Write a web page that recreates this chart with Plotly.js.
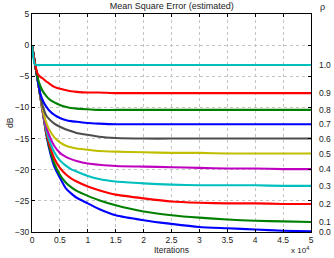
<!DOCTYPE html>
<html>
<head>
<meta charset="utf-8">
<script src="https://cdn.plot.ly/plotly-3.0.1.min.js"></script>
<style>html,body{margin:0;padding:0;background:#fff;}#chart{width:334px;height:258px;}</style>
</head>
<body>
<div id="chart"></div>
<script>
// iterations at which values were read
const iterations = [0, 500, 1000, 1500, 2000, 2500, 3000, 4000, 5000, 6000, 7000, 8000, 10000, 12000, 15000, 20000, 25000, 30000, 35000, 40000, 45000, 50000];

// MSE (dB) per rho
const rho00 = [0, -2.8, -5.5, -8.3, -11.1, -14.0, -16.3, -19.5, -21.3, -22.9, -23.8, -24.5, -25.4, -26.3, -27.3, -28.1, -28.7, -29.2, -29.4, -29.6, -29.8, -29.9];
const rho01 = [0, -2.8, -5.5, -8.3, -11.1, -13.9, -16.0, -19.0, -20.8, -22.0, -22.8, -23.4, -24.2, -24.9, -25.7, -26.7, -27.3, -27.7, -28.0, -28.2, -28.3, -28.4];
const rho02 = [0, -2.8, -5.5, -8.3, -11.1, -13.8, -15.6, -18.2, -19.7, -20.7, -21.4, -21.9, -22.7, -23.3, -24.0, -24.6, -25.1, -25.3, -25.4, -25.4, -25.5, -25.5];
const rho03 = [0, -2.8, -5.5, -8.3, -11.0, -13.4, -15.0, -17.2, -18.5, -19.3, -19.9, -20.3, -21.0, -21.5, -21.9, -22.2, -22.4, -22.5, -22.5, -22.5, -22.6, -22.6];
const rho04 = [0, -2.8, -5.5, -8.3, -10.9, -12.9, -14.3, -16.2, -17.3, -17.9, -18.3, -18.6, -19.0, -19.2, -19.4, -19.5, -19.6, -19.7, -19.8, -19.8, -19.9, -19.9];
const rho05 = [0, -2.8, -5.5, -8.3, -10.6, -12.3, -13.4, -14.8, -15.6, -16.1, -16.4, -16.6, -16.8, -17.0, -17.1, -17.2, -17.3, -17.3, -17.4, -17.4, -17.4, -17.4];
const rho06 = [0, -2.8, -5.5, -8.2, -10.0, -11.2, -11.8, -12.6, -13.1, -13.5, -13.8, -14.1, -14.4, -14.7, -14.9, -15.0, -15.0, -15.0, -15.0, -15.0, -15.0, -15.0];
const rho07 = [0, -2.8, -5.5, -7.8, -9.0, -9.8, -10.4, -11.2, -11.7, -12.0, -12.2, -12.3, -12.5, -12.6, -12.7, -12.7, -12.7, -12.7, -12.7, -12.7, -12.7, -12.7];
const rho08 = [0, -2.8, -5.2, -6.6, -7.5, -8.1, -8.6, -9.2, -9.6, -9.9, -10.1, -10.2, -10.3, -10.4, -10.4, -10.4, -10.4, -10.4, -10.4, -10.4, -10.4, -10.4];
const rho09 = [0, -2.8, -4.6, -5.1, -5.4, -5.8, -6.1, -6.7, -7.0, -7.2, -7.4, -7.5, -7.6, -7.6, -7.7, -7.7, -7.7, -7.7, -7.7, -7.7, -7.7, -7.7];
const rho10 = [0, -3.1, -3.2, -3.2, -3.2, -3.2, -3.2, -3.2, -3.2, -3.2, -3.2, -3.2, -3.2, -3.2, -3.2, -3.2, -3.2, -3.2, -3.2, -3.2, -3.2, -3.2];

const rhoLabels = ["0.0", "0.1", "0.2", "0.3", "0.4", "0.5", "0.6", "0.7", "0.8", "0.9", "1.0"];
const seriesList = [rho00, rho01, rho02, rho03, rho04, rho05, rho06, rho07, rho08, rho09, rho10];
const colors = ["#0000ff", "#008000", "#ff0000", "#00bfbf", "#bf00bf", "#bfbf00", "#4d4d4d", "#0000ff", "#008000", "#ff0000", "#00bfbf"];

const xTickVals = [0, 5000, 10000, 15000, 20000, 25000, 30000, 35000, 40000, 45000, 50000];
const xTickText = ["0", "0.5", "1", "1.5", "2", "2.5", "3", "3.5", "4", "4.5", "5"];
const yTickVals = [-30, -25, -20, -15, -10, -5, 0, 5];

const font = "Liberation Sans, Arial, sans-serif";
const txt = {family: font, size: 8.5, color: "#222"};

const traces = seriesList.map((s, i) => ({
  x: iterations, y: s, type: "scatter", mode: "lines",
  line: {color: colors[i], width: 2.1, shape: "spline", smoothing: 0.5},
  hoverinfo: "skip", showlegend: false
}));

const annotations = seriesList.map((s, i) => ({
  xref: "paper", yref: "y", x: 1, y: s[s.length - 1] - (i === 0 ? 0.1 : 0),
  xanchor: "left", yanchor: "middle", xshift: 6,
  text: rhoLabels[i], showarrow: false, font: txt
}));
annotations.push({
  xref: "paper", yref: "paper", x: 1.04, y: 1.0, yshift: 7, xanchor: "center", yanchor: "middle",
  text: "ρ", showarrow: false, font: {family: font, size: 9, color: "#222"}
});
annotations.push({
  xref: "paper", yref: "paper", x: 1, y: 0, yshift: -25, xanchor: "right", yanchor: "bottom",
  text: "x 10<sup>4</sup>", showarrow: false, font: {family: font, size: 8, color: "#222"}
});
annotations.push({
  xref: "paper", yref: "paper", x: 0.5, y: 0, yshift: -18, xanchor: "center", yanchor: "middle",
  text: "Iterations", showarrow: false, font: txt
});
annotations.push({
  xref: "paper", yref: "paper", x: 0, xshift: -22, y: 0.5, xanchor: "center", yanchor: "middle",
  text: "dB", textangle: -90, showarrow: false, font: txt
});

const axisCommon = {
  showline: true, linecolor: "#000", linewidth: 1, mirror: "ticks",
  ticks: "inside", ticklen: 3, tickcolor: "#000",
  showgrid: true, gridcolor: "#c4c4c4", griddash: "dot", gridwidth: 1,
  zeroline: false, tickfont: txt
};

const layout = {
  width: 334, height: 258,
  margin: {l: 32, r: 23, t: 14, b: 26},
  paper_bgcolor: "#fff", plot_bgcolor: "#fff",
  title: {text: "Mean Square Error (estimated)", font: {family: font, size: 9, color: "#222"},
          x: 0.514, xanchor: "center", y: 0.977, yanchor: "middle"},
  xaxis: Object.assign({}, axisCommon, {range: [0, 50000], tickvals: xTickVals, ticktext: xTickText}),
  yaxis: Object.assign({}, axisCommon, {range: [-30, 5], tickvals: yTickVals}),
  annotations: annotations
};

Plotly.newPlot("chart", traces, layout, {staticPlot: true, displayModeBar: false});
</script>
</body>
</html>
